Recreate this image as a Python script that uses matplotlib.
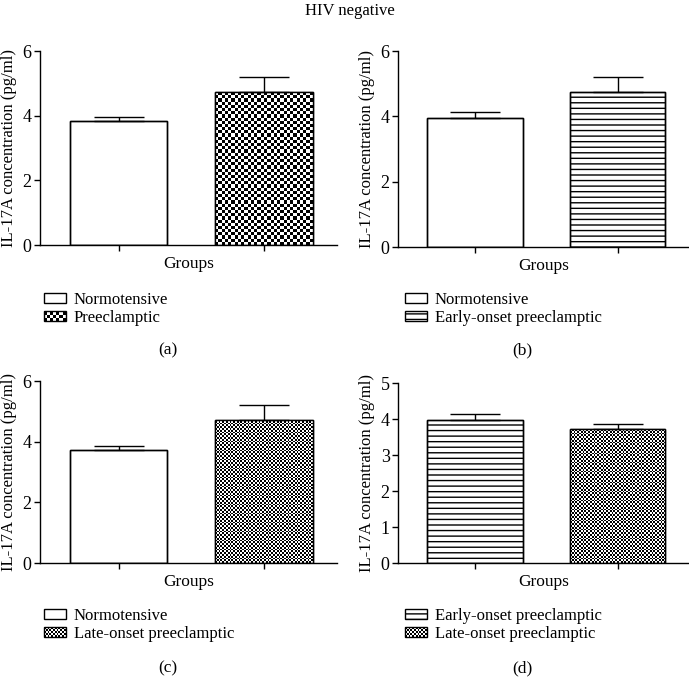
import numpy as np
import matplotlib
matplotlib.use('Agg')
import matplotlib.pyplot as plt
from matplotlib.patches import Rectangle
from matplotlib.legend_handler import HandlerBase

plt.rcParams['font.family'] = ['Liberation Serif', 'DejaVu Serif']
plt.rcParams['hatch.linewidth'] = 1.0

# ---------------- data ----------------
title = "HIV negative"
ylabel = "IL-17A concentration (pg/ml)"
xlabel = "Groups"

groups_a = ["Normotensive", "Preeclamptic"]
means_a = [3.83, 4.73]
sem_a = [0.12, 0.47]

groups_b = ["Normotensive", "Early-onset preeclamptic"]
means_b = [3.95, 4.73]
sem_b = [0.18, 0.47]

groups_c = ["Normotensive", "Late-onset preeclamptic"]
means_c = [3.72, 4.73]
sem_c = [0.14, 0.47]

groups_d = ["Early-onset preeclamptic", "Late-onset preeclamptic"]
means_d = [3.97, 3.72]
sem_d = [0.16, 0.14]

yticks_abc = [0, 2, 4, 6]
yticks_d = [0, 1, 2, 3, 4, 5]
captions = ["(a)", "(b)", "(c)", "(d)"]

# ---------------- styles ----------------
# kind, cell size in pixels
STYLE = {
    "Normotensive": ("plain", None),
    "Preeclamptic": ("checker", 3.2),
    "Early-onset preeclamptic": ("hlines", None),
    "Late-onset preeclamptic": ("checker", 1.8),
}

fig = plt.figure(figsize=(6.89, 6.77), dpi=100)
W, H = 689.0, 677.0


def fpos(x0, x1, ytop, ybot):
    return [x0 / W, 1 - ybot / H, (x1 - x0) / W, (ybot - ytop) / H]


class CheckerHandler(HandlerBase):
    def __init__(self, cell_pt):
        super().__init__()
        self.cell = cell_pt

    def create_artists(self, legend, orig_handle, xdescent, ydescent,
                       width, height, fontsize, trans):
        arts = []
        x0, y0 = -xdescent, -ydescent
        nx = max(1, int(round(width / self.cell)))
        ny = max(1, int(round(height / self.cell)))
        cw, ch = width / nx, height / ny
        arts.append(Rectangle((x0, y0), width, height, facecolor='white',
                              edgecolor='none', transform=trans))
        for i in range(nx):
            for j in range(ny):
                if (i + j) % 2 == 0:
                    arts.append(Rectangle((x0 + i * cw, y0 + j * ch), cw, ch,
                                          facecolor='black', edgecolor='none',
                                          transform=trans))
        arts.append(Rectangle((x0, y0), width, height, facecolor='none',
                              edgecolor='black', linewidth=1.0, transform=trans))
        return arts


def checker_fill(ax, bar, cell_px):
    bb = bar.get_bbox()
    (px0, py0) = ax.transData.transform((bb.x0, bb.y0))
    (px1, py1) = ax.transData.transform((bb.x1, bb.y1))
    nx = max(1, int(round((px1 - px0) / cell_px)))
    ny = max(1, int(round((py1 - py0) / cell_px)))
    ii, jj = np.meshgrid(np.arange(nx), np.arange(ny))
    img = ((ii + jj) % 2).astype(float)
    im = ax.imshow(img, extent=(bb.x0, bb.x1, bb.y0, bb.y1), origin='lower',
                   cmap='gray', vmin=0, vmax=1, interpolation='nearest',
                   aspect='auto', zorder=2.5)
    im.set_clip_path(bar)


def draw_panel(pos, groups, means, sems, yticks, leg_xy, cap_xy, caption):
    ax = fig.add_axes(pos)
    x = np.arange(len(groups))
    ax.set_xlim(-0.54, 1.5)
    ax.set_ylim(0, yticks[-1])
    hatches = ['---' if STYLE[g][0] == 'hlines' else None for g in groups]
    bars = ax.bar(x, means, width=0.67, color='white', edgecolor='black',
                  linewidth=1.0, zorder=2)
    for b, h in zip(bars, hatches):
        if h:
            b.set_hatch(h)
    for b, g in zip(bars, groups):
        if STYLE[g][0] == 'checker':
            checker_fill(ax, b, STYLE[g][1])
    ax.bar(x, means, width=0.67, fill=False, edgecolor='black',
           linewidth=1.0, zorder=3)
    ax.errorbar(x, means, yerr=[np.zeros(len(sems)), sems], fmt='none',
                ecolor='black', elinewidth=1.0, capsize=18, capthick=1.0,
                zorder=4)
    ax.set_xlim(-0.54, 1.5)
    ax.set_ylim(0, yticks[-1])
    ax.set_yticks(yticks)
    ax.set_xticks(x)
    ax.set_xticklabels([''] * len(x))
    ax.spines['top'].set_visible(False)
    ax.spines['right'].set_visible(False)
    for s in ('left', 'bottom'):
        ax.spines[s].set_linewidth(1.0)
    ax.tick_params(direction='out', length=4, width=1.0, labelsize=13, pad=2)
    ax.set_ylabel(ylabel, fontsize=12, labelpad=4)
    ax.set_xlabel(xlabel, fontsize=12.5, labelpad=2)

    # legend
    handles = []
    hmap = {}
    for g in groups:
        kind, cell = STYLE[g]
        if kind == 'checker':
            h = Rectangle((0, 0), 1, 1, facecolor='white', edgecolor='black')
            hmap[h] = CheckerHandler(cell * 72.0 / 100.0)
        elif kind == 'hlines':
            h = Rectangle((0, 0), 1, 1, facecolor='white', edgecolor='black',
                          hatch='---', linewidth=1.0)
        else:
            h = Rectangle((0, 0), 1, 1, facecolor='white', edgecolor='black',
                          linewidth=1.0)
        handles.append(h)
    fig.legend(handles, groups, loc='upper left', bbox_to_anchor=leg_xy,
               frameon=False, fontsize=12, handlelength=1.3,
               handleheight=0.5, handletextpad=0.5, labelspacing=0.12,
               borderpad=0, borderaxespad=0, handler_map=hmap)
    fig.text(cap_xy[0], cap_xy[1], caption, ha='center', va='center',
             fontsize=12.5)
    return ax


draw_panel(fpos(40, 337, 51, 245), groups_a, means_a, sem_a, yticks_abc,
           (44 / W, 1 - 292 / H), (168 / W, 1 - 350 / H), captions[0])
draw_panel(fpos(398, 689, 51, 247), groups_b, means_b, sem_b, yticks_abc,
           (405 / W, 1 - 292 / H), (522 / W, 1 - 350 / H), captions[1])
draw_panel(fpos(40, 337, 381, 563), groups_c, means_c, sem_c, yticks_abc,
           (44 / W, 1 - 608 / H), (168 / W, 1 - 668 / H), captions[2])
draw_panel(fpos(398, 689, 383, 563), groups_d, means_d, sem_d, yticks_d,
           (405 / W, 1 - 608 / H), (522 / W, 1 - 668 / H), captions[3])

fig.text(350 / W, 1 - 11 / H, title, ha='center', va='center', fontsize=12)

fig.savefig('out.png', dpi=100)
